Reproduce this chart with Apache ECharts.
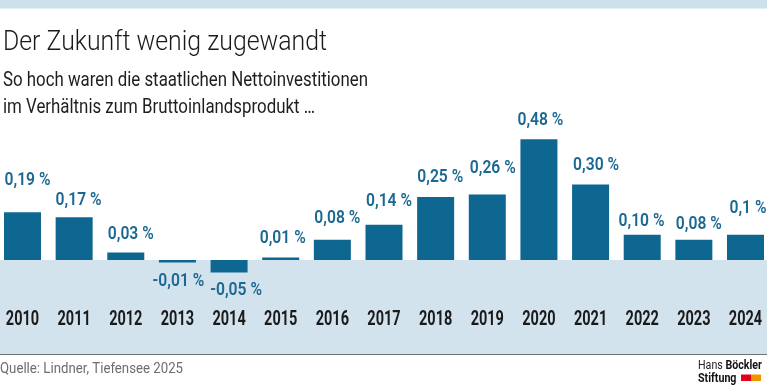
<!DOCTYPE html>
<html><head><meta charset="utf-8">
<script src="https://cdn.jsdelivr.net/npm/echarts@6/dist/echarts.min.js"></script>
<style>html,body{margin:0;padding:0;background:#fff}#c{width:767px;height:387px}</style>
</head><body><div id="c"></div>
<script>
const years = ['2010','2011','2012','2013','2014','2015','2016','2017','2018','2019','2020','2021','2022','2023','2024'];
const values = [0.19,0.17,0.03,-0.01,-0.05,0.01,0.08,0.14,0.25,0.26,0.48,0.30,0.10,0.08,0.10];
const valueLabels = ['0,19 %','0,17 %','0,03 %','-0,01 %','-0,05 %','0,01 %','0,08 %','0,14 %','0,25 %','0,26 %','0,48 %','0,30 %','0,10 %','0,08 %','0,1 %'];
// label placement tweaks (px) mimicking the hand-placed labels of the original
const labelDx  = [5,4.4,5,1,7,2,5,5,4.6,5.5,1.5,5.5,-0.7,5,2.5];
const labelGap = [32,17,18,19,18.4,18.5,21,23,20,25.6,18.6,19,13,15.6,26.6];
const yMin = -0.374, yMax = 0.5;

const ctx = document.createElement('canvas').getContext('2d');
function fit(text, font, w) { ctx.font = font; return w / ctx.measureText(text).width; }

const F_TITLE = '300 27px Roboto, "Liberation Sans", sans-serif';
const F_SUB = '19.5px Roboto, "Liberation Sans", sans-serif';
const F_SRC = '15.5px Roboto, "Liberation Sans", sans-serif';
const F_VAL = '600 17.7px Roboto, "Liberation Sans", sans-serif';
const F_YEAR = 'bold 19.5px Roboto, "Liberation Sans", sans-serif';
const F_LOGO_R = '12.5px Roboto, "Liberation Sans", sans-serif';
const F_LOGO_B = 'bold 12.5px Roboto, "Liberation Sans", sans-serif';

const sTitle = fit('Der Zukunft wenig zugewandt', F_TITLE, 324);
const sSub = fit('So hoch waren die staatlichen Nettoinvestitionen', F_SUB, 365);
const sSrc = fit('Quelle: Lindner, Tiefensee 2025', F_SRC, 183);
const sVal = fit('0,48 %', F_VAL, 46);
const sYear = fit('2010', F_YEAR, 33.3);
ctx.font = F_LOGO_R; const wHans = ctx.measureText('Hans ').width;
ctx.font = F_LOGO_B; const wBoeck = ctx.measureText('Böckler').width;
const sLogo = 64 / (wHans + wBoeck);

const chart = echarts.init(document.getElementById('c'), null, {renderer: 'canvas'});

chart.setOption({
  animation: false,
  backgroundColor: '#ffffff',
  grid: {left: -3.32, right: -4.32, top: 134.25, bottom: 33, containLabel: false, outerBoundsMode: 'none'},
  xAxis: {
    type: 'category', data: years,
    axisLine: {show: false}, axisTick: {show: false}, axisLabel: {show: false}, splitLine: {show: false}
  },
  yAxis: {type: 'value', min: yMin, max: yMax, show: false, splitLine: {show: false}},
  series: [
    {
      type: 'line', data: [], silent: true, z: 0,
      markArea: {silent: true, itemStyle: {color: '#d3e3ed'}, data: [[{yAxis: yMin}, {yAxis: 0}]]}
    },
    {
      type: 'bar', data: values, barWidth: 37, z: 2, silent: true,
      itemStyle: {color: '#0e6791'}
    },
    {
      type: 'custom', z: 3, silent: true, clip: false,
      data: values.map((v, i) => [i, v]),
      renderItem: function (params, api) {
        const i = params.dataIndex;
        const v = api.value(1);
        const p = api.coord([api.value(0), v]);
        const y = v < 0 ? p[1] + labelGap[i] : p[1] - labelGap[i];
        return {
          type: 'text', x: p[0] + labelDx[i], y: y, scaleX: sVal,
          style: {text: valueLabels[i], font: F_VAL, fill: '#1b6892', align: 'center', verticalAlign: 'middle'}
        };
      }
    },
    {
      type: 'custom', z: 3, silent: true, clip: false,
      data: years.map((y, i) => [i, 0]),
      renderItem: function (params, api) {
        const p = api.coord([api.value(0), 0]);
        return {
          type: 'text', x: p[0], y: p[1] + 59.7, scaleX: sYear,
          style: {text: years[params.dataIndex], font: F_YEAR, fill: '#1a1a1a', align: 'center', verticalAlign: 'middle'}
        };
      }
    }
  ],
  graphic: [
    {type: 'rect', shape: {x: 0, y: 0, width: 767, height: 8.5}, style: {fill: '#cbe2ed'}, silent: true},
    {type: 'rect', shape: {x: 0, y: 353, width: 767, height: 2}, style: {fill: '#6e7378'}, silent: true},
    {type: 'text', x: 3, y: 43.7, scaleX: sTitle, style: {text: 'Der Zukunft wenig zugewandt', font: F_TITLE, fill: '#1a1a1a', verticalAlign: 'middle'}},
    {type: 'text', x: 3, y: 81.3, scaleX: sSub, style: {text: 'So hoch waren die staatlichen Nettoinvestitionen', font: F_SUB, fill: '#1e1e1e', verticalAlign: 'middle'}},
    {type: 'text', x: 3, y: 108, scaleX: sSub, style: {text: 'im Verhältnis zum Bruttoinlandsprodukt …', font: F_SUB, fill: '#1e1e1e', verticalAlign: 'middle'}},
    {type: 'text', x: 0, y: 369, scaleX: sSrc, style: {text: 'Quelle: Lindner, Tiefensee 2025', font: F_SRC, fill: '#6d6d6d', verticalAlign: 'middle'}},
    {type: 'text', x: 698, y: 366, scaleX: sLogo, style: {text: 'Hans ', font: F_LOGO_R, fill: '#222', verticalAlign: 'middle'}},
    {type: 'text', x: 698 + wHans * sLogo, y: 366, scaleX: sLogo, style: {text: 'Böckler', font: F_LOGO_B, fill: '#111', verticalAlign: 'middle'}},
    {type: 'text', x: 698, y: 378.7, scaleX: sLogo, style: {text: 'Stiftung', font: F_LOGO_B, fill: '#111', verticalAlign: 'middle'}},
    {type: 'rect', shape: {x: 741, y: 374.5, width: 10, height: 6.5}, style: {fill: '#e3001b'}},
    {type: 'rect', shape: {x: 751, y: 374.5, width: 10, height: 6.5}, style: {fill: '#f39200'}}
  ]
});
</script>
</body></html>
